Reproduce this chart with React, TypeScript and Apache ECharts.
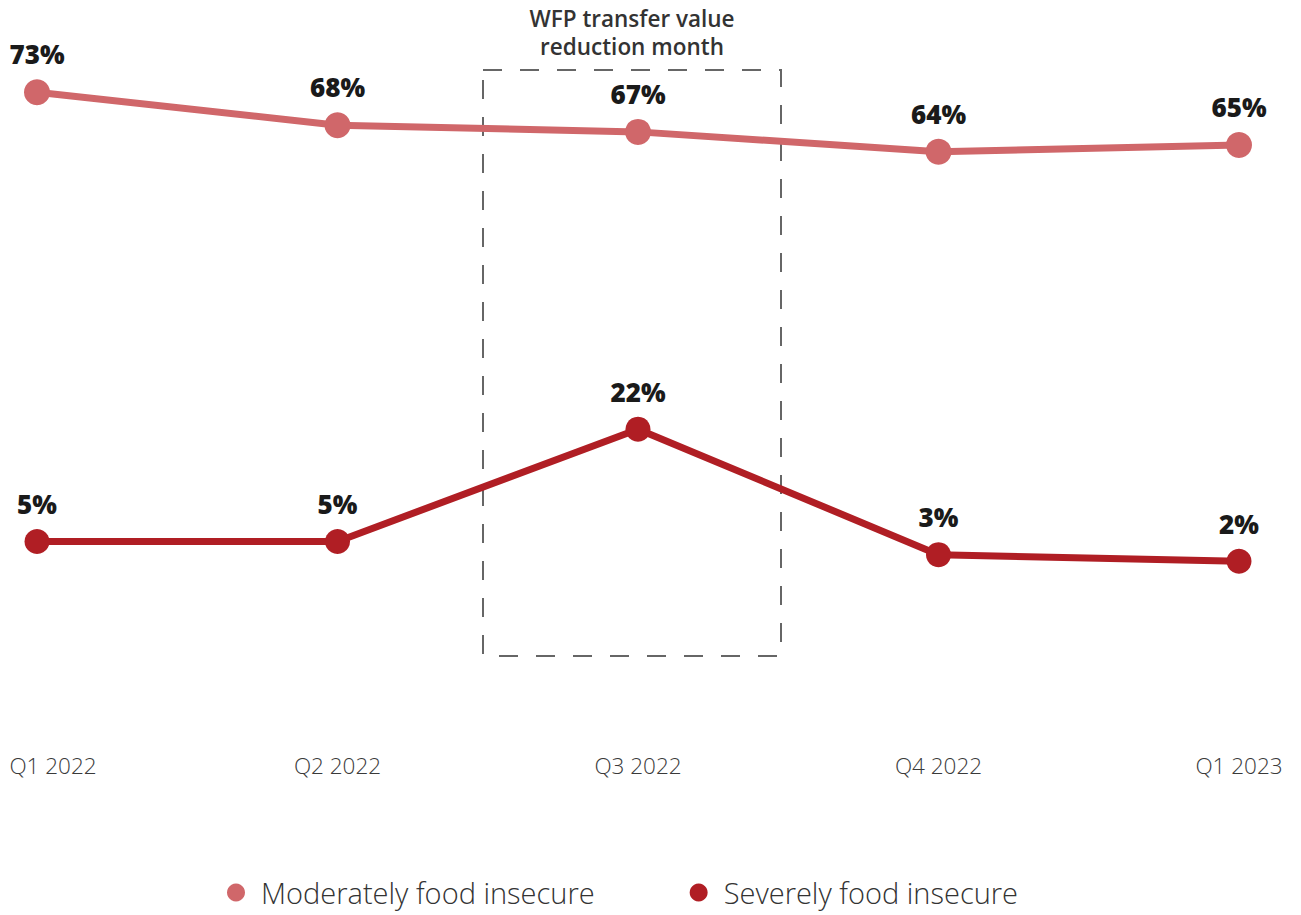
import React, { useEffect, useRef } from "react";
import * as echarts from "echarts";

const categories = ["Q1 2022", "Q2 2022", "Q3 2022", "Q4 2022", "Q1 2023"];
const moderate = [73, 68, 67, 64, 65];
const severe = [5, 5, 22, 3, 2];
const seriesNames = ["Moderately food insecure", "Severely food insecure"];
const annotationLines = ["WFP transfer value", "reduction month"];

const FONT = "'Open Sans', 'Noto Sans', sans-serif";
const LIGHT_RED = "#d0676a";
const DARK_RED = "#b01e24";

export default function App() {
  const ref = useRef<HTMLDivElement>(null);

  useEffect(() => {
    document.body.style.margin = "0";
    const chart = echarts.init(ref.current!, null, { renderer: "svg" });

    const labelStyle = {
      show: true,
      position: "top" as const,
      distance: 12,
      formatter: "{c}%",
      color: "#1a1a1a",
      fontSize: 26,
      fontWeight: 800 as any,
      fontFamily: FONT,
    };

    chart.setOption({
      animation: false,
      backgroundColor: "#ffffff",
      grid: { left: 37, right: 62, top: 46, bottom: 340.5 },
      legend: {
        show: true,
        left: 222,
        top: 873,
        icon: "circle",
        itemWidth: 18,
        itemHeight: 18,
        itemGap: 95,
        data: seriesNames,
        textStyle: {
          fontFamily: FONT,
          fontSize: 29,
          fontWeight: 300 as any,
          color: "#333333",
          padding: [0, 0, 0, 11],
        },
      },
      xAxis: {
        type: "category",
        data: categories,
        boundaryGap: false,
        axisLine: { show: false },
        axisTick: { show: false },
        splitLine: { show: false },
        axisLabel: {
          margin: 179,
          color: "#3a3a3a",
          fontSize: 22.5,
          fontWeight: 300 as any,
          fontFamily: FONT,
          formatter: (v: string, i: number) => (i === 0 ? "{first|" + v + "}" : v),
          rich: {
            first: {
              padding: [0, 0, 0, 32],
              color: "#3a3a3a",
              fontSize: 22.5,
              fontWeight: 300 as any,
              fontFamily: FONT,
            },
          },
        },
      },
      yAxis: {
        type: "value",
        min: 0,
        max: 80,
        show: false,
        splitLine: { show: false },
      },
      graphic: [
        {
          type: "rect",
          shape: { x: 483, y: 70, width: 298, height: 586 },
          style: {
            fill: "none",
            stroke: "#666666",
            lineWidth: 2,
            lineDash: [19, 18],
          },
          z: 0,
        },
        {
          type: "text",
          x: 632,
          y: 18,
          style: {
            text: annotationLines[0],
            textAlign: "center",
            textVerticalAlign: "middle",
            fontFamily: FONT,
            fontSize: 22.5,
            fontWeight: 600,
            fill: "#333333",
          },
        },
        {
          type: "text",
          x: 632,
          y: 46,
          style: {
            text: annotationLines[1],
            textAlign: "center",
            textVerticalAlign: "middle",
            fontFamily: FONT,
            fontSize: 22.5,
            fontWeight: 600,
            fill: "#333333",
          },
        },
      ],
      series: [
        {
          name: seriesNames[0],
          type: "line",
          data: moderate,
          symbol: "circle",
          symbolSize: 26,
          itemStyle: { color: LIGHT_RED },
          lineStyle: { color: LIGHT_RED, width: 7 },
          label: labelStyle,
          z: 3,
        },
        {
          name: seriesNames[1],
          type: "line",
          data: severe,
          symbol: "circle",
          symbolSize: 25,
          itemStyle: { color: DARK_RED },
          lineStyle: { color: DARK_RED, width: 7 },
          label: labelStyle,
          z: 3,
        },
      ],
    });

    return () => chart.dispose();
  }, []);

  return <div ref={ref} style={{ width: 1301, height: 915 }} />;
}
